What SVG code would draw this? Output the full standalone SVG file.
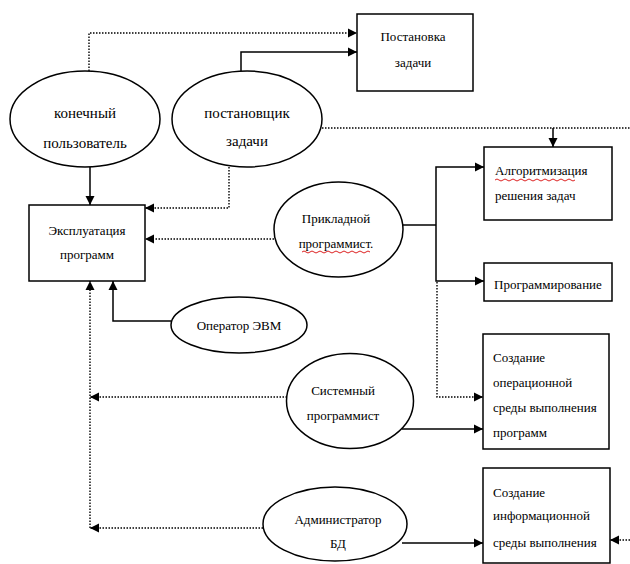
<svg xmlns="http://www.w3.org/2000/svg" width="630" height="564" viewBox="0 0 630 564">
<defs>
<style>
text{font-family:"Liberation Serif","Times New Roman","DejaVu Serif",serif;font-size:13px;fill:#000}
.c{text-anchor:middle}
.b{font-size:15px}
.n{fill:#fff;stroke:#000;stroke-width:1.5}
.s{fill:none;stroke:#000;stroke-width:1.5}
.d{fill:none;stroke:#000;stroke-width:1.4;stroke-dasharray:1.5 1.5}
.w{fill:none;stroke:#d22;stroke-width:1}
</style>
<marker id="a" markerUnits="userSpaceOnUse" markerWidth="10" markerHeight="10" refX="9" refY="5" orient="auto">
<path d="M0,0.5 L9,5 L0,9.5 z" fill="#000"/>
</marker>
</defs>
<rect width="630" height="564" fill="#fff"/>
<g id="connectors">
<path class="d" d="M89,71 V33 H357" marker-end="url(#a)"/>
<path class="s" d="M241,71 V52 H357" marker-end="url(#a)"/>
<path class="d" d="M322,128 H630"/>
<path class="s" d="M553,128 V147" marker-end="url(#a)"/>
<path class="s" d="M90,167 V205" marker-end="url(#a)"/>
<path class="d" d="M229,167 V208 H145" marker-end="url(#a)"/>
<path class="d" d="M274,239 H145" marker-end="url(#a)"/>
<path class="s" d="M403,225 H436"/>
<path class="s" d="M436,225 V167 H484" marker-end="url(#a)"/>
<path class="s" d="M436,225 V281 H484" marker-end="url(#a)"/>
<path class="d" d="M437,282 V397 H483" marker-end="url(#a)"/>
<path class="s" d="M402,429 H483" marker-end="url(#a)"/>
<path class="s" d="M171,321 H113 V281" marker-end="url(#a)"/>
<path class="d" d="M90,528 V281" marker-end="url(#a)"/>
<path class="d" d="M287,397 H90" marker-end="url(#a)"/>
<path class="d" d="M263,528 H90" marker-end="url(#a)"/>
<path class="s" d="M402,543 H483" marker-end="url(#a)"/>
<path class="d" d="M630,540 H610" marker-end="url(#a)"/>
</g>
<g id="end-user">
<ellipse class="n" cx="85" cy="119" rx="75" ry="48"/>
<text class="c b" x="85" y="118">конечный</text>
<text class="c b" x="85" y="148">пользователь</text>
</g>
<g id="task-setter">
<ellipse class="n" cx="247" cy="119" rx="75" ry="48"/>
<text class="c b" x="247" y="118">постановщик</text>
<text class="c b" x="247" y="146">задачи</text>
</g>
<g id="task-setting">
<rect class="n" x="357" y="14" width="116" height="77"/>
<text class="c" x="413" y="41">Постановка</text>
<text class="c" x="413" y="67">задачи</text>
</g>
<g id="operation">
<rect class="n" x="29" y="205" width="116" height="76"/>
<text class="c" x="87" y="235">Эксплуатация</text>
<text class="c" x="87" y="259">программ</text>
</g>
<g id="app-programmer">
<ellipse class="n" cx="338.500" cy="229.500" rx="64.500" ry="47.500"/>
<text class="c" x="336" y="223">Прикладной</text>
<text class="c" x="336" y="248">программист.</text>
<path class="w" d="M302,252 q2,-2 4,0 t4,0 t4,0 t4,0 t4,0 t4,0 t4,0 t4,0 t4,0 t4,0 t4,0 t4,0 t4,0 t4,0 t4,0 t4,0 t4,0"/>
</g>
<g id="operator">
<ellipse class="n" cx="239" cy="325" rx="68" ry="28"/>
<text class="c" x="239" y="330">Оператор  ЭВМ</text>
</g>
<g id="sys-programmer">
<ellipse class="n" cx="350" cy="401" rx="63.500" ry="47.500"/>
<text class="c" x="343" y="395">Системный</text>
<text class="c" x="343" y="420">программист</text>
</g>
<g id="db-admin">
<ellipse class="n" cx="335" cy="524" rx="72" ry="37"/>
<text class="c" x="338" y="524">Администратор</text>
<text class="c" x="338" y="548">БД</text>
</g>
<g id="algorithmization">
<rect class="n" x="484" y="147" width="128" height="73"/>
<text x="495" y="175">Алгоритмизация</text>
<path class="w" d="M495,180 q2,-2 4,0 t4,0 t4,0 t4,0 t4,0 t4,0 t4,0 t4,0 t4,0 t4,0 t4,0 t4,0 t4,0 t4,0 t4,0 t4,0 t4,0 t4,0 t4,0 t4,0"/>
<text x="495" y="200">решения задач</text>
</g>
<g id="programming">
<rect class="n" x="484" y="263" width="128" height="38"/>
<text x="494" y="289">Программирование</text>
</g>
<g id="os-env">
<rect class="n" x="483" y="334" width="126" height="115"/>
<text x="493" y="362">Создание</text>
<text x="493" y="387">операционной</text>
<text x="493" y="412">среды выполнения</text>
<text x="493" y="437">программ</text>
</g>
<g id="info-env">
<rect class="n" x="483" y="468" width="127" height="95"/>
<text x="493" y="497">Создание</text>
<text x="493" y="520">информационной</text>
<text x="493" y="547">среды выполнения</text>
</g>
</svg>
